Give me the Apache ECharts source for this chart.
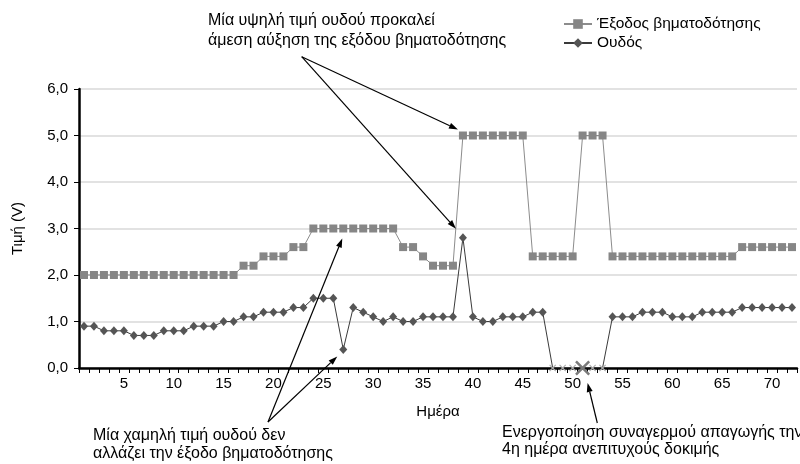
<!DOCTYPE html>
<html>
<head>
<meta charset="utf-8">
<script src="https://cdn.jsdelivr.net/npm/echarts@6/dist/echarts.min.js"></script>
<style>
html,body{margin:0;padding:0;background:#fff;}
#chart{width:800px;height:464px;}
</style>
</head>
<body>
<div id="chart"></div>
<script>
// ---- data ----
var days = [];
for (var i = 1; i <= 72; i++) days.push(String(i));

var pacingOutput = [
  2.0,2.0,2.0,2.0,2.0,2.0,2.0,2.0,2.0,2.0,2.0,2.0,2.0,2.0,2.0,2.0,
  2.2,2.2,
  2.4,2.4,2.4,
  2.6,2.6,
  3.0,3.0,3.0,3.0,3.0,3.0,3.0,3.0,3.0,
  2.6,2.6,
  2.4,
  2.2,2.2,2.2,
  5.0,5.0,5.0,5.0,5.0,5.0,5.0,
  2.4,2.4,2.4,2.4,2.4,
  5.0,5.0,5.0,
  2.4,2.4,2.4,2.4,2.4,2.4,2.4,2.4,2.4,2.4,2.4,2.4,2.4,
  2.6,2.6,2.6,2.6,2.6,2.6
];

var threshold = [
  0.9,0.9,0.8,0.8,0.8,0.7,0.7,0.7,0.8,0.8,
  0.8,0.9,0.9,0.9,1.0,1.0,1.1,1.1,1.2,1.2,
  1.2,1.3,1.3,1.5,1.5,1.5,0.4,1.3,1.2,1.1,
  1.0,1.1,1.0,1.0,1.1,1.1,1.1,1.1,2.8,1.1,
  1.0,1.0,1.1,1.1,1.1,1.2,1.2,0,0,0,
  0,0,0,1.1,1.1,1.1,1.2,1.2,1.2,1.1,
  1.1,1.1,1.2,1.2,1.2,1.2,1.3,1.3,1.3,1.3,
  1.3,1.3
];

var failedDays = [48,49,50,51,52,53];
var alarmDay = 51;

var seriesNames = ['Έξοδος βηματοδότησης', 'Ουδός'];
var yTicks = ['0,0','1,0','2,0','3,0','4,0','5,0','6,0'];

var noteHigh = ['Μία υψηλή τιμή ουδού προκαλεί', 'άμεση αύξηση της εξόδου βηματοδότησης'];
var noteLow = ['Μία χαμηλή τιμή ουδού δεν', 'αλλάζει την έξοδο βηματοδότησης'];
var noteAlarm = ['Ενεργοποίηση συναγερμού απαγωγής την', '4η ημέρα ανεπιτυχούς δοκιμής'];

// ---- chart ----
var FONT = '"Liberation Sans", Arial, sans-serif';
var XPATH = 'path://M0,1.2L1.2,0L5,3.8L8.8,0L10,1.2L6.2,5L10,8.8L8.8,10L5,6.2L1.2,10L0,8.8L3.8,5Z';

var thresholdData = threshold.map(function (v, i) {
  var d = i + 1;
  if (failedDays.indexOf(d) >= 0) {
    var big = d === alarmDay;
    return {
      value: v,
      symbol: XPATH,
      symbolSize: big ? 15 : 7,
      itemStyle: { color: big ? '#7a7a7a' : '#b0b0b0' }
    };
  }
  return v;
});

var chart = echarts.init(document.getElementById('chart'), null, { renderer: 'canvas' });

var option = {
  animation: false,
  backgroundColor: '#fff',
  textStyle: { fontFamily: FONT },
  grid: { left: 79, right: 3, top: 89, bottom: 96 },
  legend: {
    orient: 'vertical',
    left: 558,
    top: 11,
    itemWidth: 28,
    itemHeight: 12,
    itemGap: 3,
    textStyle: { fontFamily: FONT, fontSize: 15.5, color: '#000' },
    data: seriesNames
  },
  xAxis: {
    type: 'category',
    data: days,
    boundaryGap: true,
    name: 'Ημέρα',
    nameLocation: 'middle',
    nameGap: 36,
    nameTextStyle: { fontFamily: FONT, fontSize: 15, color: '#000' },
    axisLine: { lineStyle: { color: '#000', width: 2.5 } },
    axisTick: { show: true, interval: 0, length: 5, lineStyle: { color: '#000', width: 1 } },
    axisLabel: {
      interval: function (idx) { return (idx + 1) % 5 === 0; },
      margin: 8,
      fontFamily: FONT, fontSize: 15, color: '#000'
    },
    splitLine: { show: false }
  },
  yAxis: {
    type: 'value',
    min: 0, max: 6, interval: 1,
    name: 'Τιμή (V)',
    nameLocation: 'middle',
    nameGap: 54,
    nameTextStyle: { fontFamily: FONT, fontSize: 15, color: '#000' },
    axisLine: { show: true, lineStyle: { color: '#000', width: 2.5 } },
    axisTick: { show: true, length: 5, lineStyle: { color: '#000', width: 1 } },
    axisLabel: {
      margin: 11,
      fontFamily: FONT, fontSize: 15, color: '#000',
      formatter: function (v) { return yTicks[Math.round(v)]; }
    },
    splitLine: { lineStyle: { color: '#d9d9d9', width: 1.5 } }
  },
  series: [
    {
      name: seriesNames[0],
      type: 'line',
      data: pacingOutput,
      symbol: 'rect',
      symbolSize: 8,
      showSymbol: true,
      showAllSymbol: true,
      itemStyle: { color: '#868686' },
      lineStyle: { color: '#8c8c8c', width: 1 },
      z: 3
    },
    {
      name: seriesNames[1],
      type: 'line',
      data: thresholdData,
      symbol: 'diamond',
      symbolSize: [8, 9],
      showSymbol: true,
      showAllSymbol: true,
      itemStyle: { color: '#555555' },
      lineStyle: { color: '#3a3a3a', width: 1 },
      z: 4
    }
  ]
};
chart.setOption(option);

// ---- annotations (anchored to data points) ----
function px(seriesIdx, day, val) {
  return chart.convertToPixel({ seriesIndex: seriesIdx }, [day - 1, val]);
}
function arrow(from, to) {
  var dx = to[0] - from[0], dy = to[1] - from[1];
  var len = Math.sqrt(dx * dx + dy * dy);
  var ux = dx / len, uy = dy / len;
  var hl = 9, hw = 3;
  var bx = to[0] - ux * hl, by = to[1] - uy * hl;
  return [
    { type: 'line', shape: { x1: from[0], y1: from[1], x2: bx, y2: by },
      style: { stroke: '#000', lineWidth: 1.2 }, z: 10 },
    { type: 'polygon', shape: { points: [
        [to[0], to[1]],
        [bx - uy * hw, by + ux * hw],
        [bx + uy * hw, by - ux * hw]
      ] }, style: { fill: '#000' }, z: 10 }
  ];
}
function note(lines, x, y, lh) {
  return lines.map(function (t, i) {
    return { type: 'text', left: x, top: y + i * lh - 9,
      style: { text: t, fontFamily: FONT, fontSize: 16, fill: '#000' }, z: 10 };
  });
}

var p39 = px(0, 39, pacingOutput[38]);
var t39 = px(1, 39, threshold[38]);
var p27 = px(0, 27, pacingOutput[26]);
var t27 = px(1, 27, threshold[26]);
var a51 = px(1, alarmDay, threshold[alarmDay - 1]);

var g = [];
g = g.concat(arrow([301.7, 56.7], [p39[0] - 5, p39[1] - 6]));
g = g.concat(arrow([301.7, 56.7], [t39[0] - 7, t39[1] - 9]));
g = g.concat(arrow([268, 422], [p27[0] - 1, p27[1] + 10]));
g = g.concat(arrow([268, 422], [t27[0] - 6, t27[1] + 7]));
g = g.concat(arrow([597.3, 423], [a51[0] + 5, a51[1] + 15]));
g = g.concat(note(noteHigh, 208, 21.5, 20));
g = g.concat(note(noteLow, 93, 436.7, 18.3));
g = g.concat(note(noteAlarm, 502, 433.3, 17.6));

chart.setOption({ graphic: g });
</script>
</body>
</html>
